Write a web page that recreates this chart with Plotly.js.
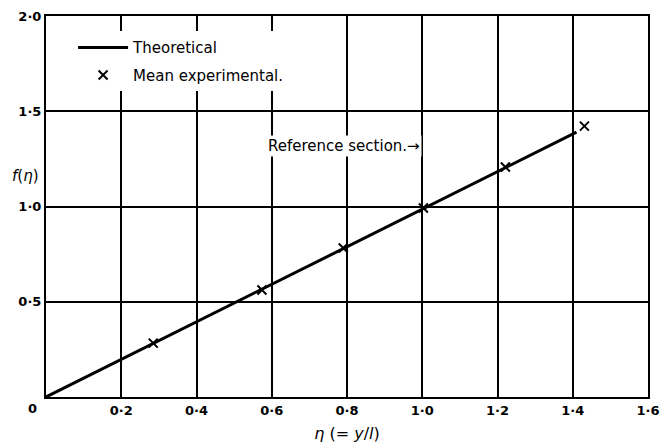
<!DOCTYPE html>
<html>
<head>
<meta charset="utf-8">
<script src="https://cdn.plot.ly/plotly-3.0.1.min.js"></script>
<style>html,body{margin:0;padding:0;background:#fff;}#chart{width:660px;height:448px;}</style>
</head>
<body>
<div id="chart"></div>
<script>
// Theoretical line
var etaTheory = [0, 1.41];
var fTheory = [0, 1.39];
// Mean experimental points
var etaExp = [0.285, 0.574, 0.79, 1.003, 1.221, 1.431];
var fExp = [0.283, 0.562, 0.782, 0.992, 1.207, 1.422];
// Tick labels
var xTickVals = [0.2, 0.4, 0.6, 0.8, 1.0, 1.2, 1.4, 1.6];
var xTickText = ["0·2", "0·4", "0·6", "0·8", "1·0", "1·2", "1·4", "1·6"];
var yTickVals = [0.5, 1.0, 1.5, 2.0];
var yTickText = ["0·5", "1·0", "1·5", "2·0"];

var FONT = "DejaVu Sans, sans-serif";

var traces = [
  {
    x: etaTheory, y: fTheory, mode: "lines", name: "Theoretical",
    line: {color: "#000", width: 3}, legendgroup: "a"
  },
  {
    x: etaExp, y: fExp, mode: "markers", name: "Mean experimental.",
    marker: {symbol: "x-thin-open", size: 9, color: "#000", line: {color: "#000", width: 2}},
    legendgroup: "b"
  }
];

var layout = {
  width: 660, height: 448,
  margin: {l: 46, r: 12, t: 16, b: 51},
  paper_bgcolor: "#fff", plot_bgcolor: "#fff",
  font: {family: FONT, color: "#000", size: 12},
  showlegend: true,
  legend: {
    x: 0.045, y: 0.96, xanchor: "left", yanchor: "top",
    bgcolor: "#fff", borderwidth: 0,
    font: {family: FONT, size: 15, color: "#000"},
    itemwidth: 50, tracegroupgap: 5, traceorder: "grouped"
  },
  xaxis: {
    range: [0, 1.6], tickvals: xTickVals, ticktext: xTickText,
    showgrid: true, gridcolor: "#000", gridwidth: 2,
    showline: true, linecolor: "#000", linewidth: 2, mirror: true,
    ticks: "", zeroline: false,
    tickfont: {family: FONT, size: 13, color: "#000", weight: "bold"},
    title: {text: "<i>η</i> (= <i>y</i>/<i>l</i>)", font: {family: FONT, size: 16, color: "#000"}, standoff: 11}
  },
  yaxis: {
    range: [0, 2.0], tickvals: yTickVals, ticktext: yTickText,
    showgrid: true, gridcolor: "#000", gridwidth: 2,
    showline: true, linecolor: "#000", linewidth: 2, mirror: true,
    ticks: "", zeroline: false,
    tickfont: {family: FONT, size: 13, color: "#000", weight: "bold"}
  },
  annotations: [
    {
      x: 1.0, y: 1.32, xref: "x", yref: "y", xanchor: "right", yanchor: "middle",
      text: "Reference section.→", showarrow: false, bgcolor: "#fff",
      font: {family: FONT, size: 15, color: "#000"}
    },
    {
      x: 0, y: 0, xref: "x", yref: "y", xanchor: "center", yanchor: "middle",
      xshift: -14, yshift: -11, text: "0", showarrow: false,
      font: {family: FONT, size: 13, color: "#000", weight: "bold"}
    },
    {
      x: 0, y: 1.16, xref: "paper", yref: "y", xanchor: "right", yanchor: "middle",
      xshift: -5, text: "<i>f</i>(<i>η</i>)", showarrow: false,
      font: {family: FONT, size: 15, color: "#000"}
    }
  ]
};

Plotly.newPlot("chart", traces, layout, {displayModeBar: false, staticPlot: true});
</script>
</body>
</html>
